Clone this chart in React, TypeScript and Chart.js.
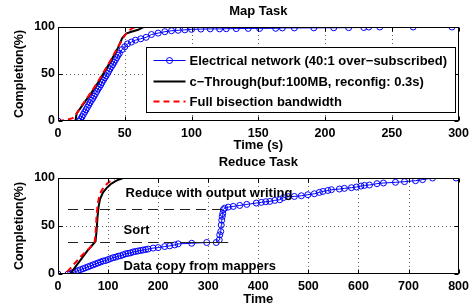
import React, { useEffect, useRef } from "react";
import { Chart, registerables } from "chart.js";

Chart.register(...registerables);

const FONT = '"Liberation Sans", Arial, Helvetica, sans-serif';

// ---------------- Map Task data ----------------
const mapTicksX = [0, 50, 100, 150, 200, 250, 300];
const mapTicksY = [0, 50, 100];

const mapElecX = [0, 16, 17, 18, 19, 20, 21, 22, 23, 24, 25, 26, 27, 28, 29, 30, 31, 32, 33, 34, 35, 36, 37, 38, 39, 40, 41, 42, 43, 44, 45, 46, 48, 50, 52, 55, 58, 62, 66, 70, 75, 80, 85, 90, 95, 100, 107, 114, 121, 126, 133.5, 142.5, 151, 163, 168, 177, 191.6, 206.5, 217.7, 229, 232.7, 241, 266, 295];
const mapElecY = [0, 0, 2, 4.5, 7, 9.5, 12, 14.5, 17, 19.5, 22, 24, 26.5, 29, 31.5, 34, 36, 38.5, 41, 43.5, 46, 48, 50.5, 53, 55.5, 58, 60, 62.5, 65, 67.5, 70, 72, 76, 79, 82, 84, 86, 87.5, 89, 92, 93.5, 95, 96, 96.5, 97, 97.5, 97.8, 98, 98, 98.2, 98.3, 98.5, 98.5, 98.6, 99, 99, 99.1, 99.2, 99.3, 99.5, 100, 100, 100, 100];

const mapCtX = [0, 13, 14, 20, 25, 30, 35, 40, 45, 48, 51, 55, 60, 64, 300];
const mapCtY = [0, 0, 8, 20, 30, 41, 53, 65, 78, 88, 93, 95, 97, 100, 100];

const mapFullX = [0, 6, 11, 14, 17, 20, 25, 30, 35, 40, 45, 50, 53, 56, 60, 300];
const mapFullY = [0, 1, 3, 8, 15, 21, 31, 42, 54, 66, 79, 91, 96, 99, 100, 100];

// ---------------- Reduce Task data ----------------
const redTicksX = [0, 100, 200, 300, 400, 500, 600, 700, 800];
const redTicksY = [0, 50, 100];

const redElecX = [0, 20, 25, 30, 35, 40, 45, 50, 55, 60, 65, 70, 75, 80, 85, 90, 95, 100, 105, 110, 115, 120, 125, 130, 135, 140, 145, 150, 155, 160, 165, 170, 175, 180, 190, 200, 213, 223, 233, 240, 267, 297, 316, 322, 323, 325, 326, 327, 328, 329, 330, 333, 340, 350, 363, 377, 396, 406, 415, 423, 433, 443, 450, 460, 472, 486, 499, 512, 522, 529, 539, 546, 562, 572, 586, 596, 605, 612, 622, 637, 650, 674, 692, 714, 728, 748, 795];
const redElecY = [0, 0, 0.5, 1.5, 2.5, 3.5, 4.5, 5.5, 6.5, 7.5, 8.5, 9.5, 10.5, 11.5, 12.5, 13.5, 14, 15, 16, 17, 17.5, 18.5, 19, 20, 21, 21.5, 22, 23, 23.5, 24, 24.5, 25, 25.5, 26, 27, 27.5, 28.6, 29.3, 30.3, 31.4, 32, 32.8, 32.8, 35.5, 40.8, 44.3, 51, 56, 60, 63, 67, 68.6, 69.7, 70.4, 71.4, 72.5, 73.9, 74.6, 75.3, 75.6, 76.7, 77.4, 79.5, 80.5, 80.8, 81.5, 82.6, 83.6, 85, 86, 87, 87.8, 88.5, 89.2, 89.9, 90.6, 91.6, 92.3, 92.7, 94.1, 94.8, 95.5, 96.2, 97.2, 98.3, 100, 100];

const redCtX = [10, 24, 30, 40, 50, 60, 70, 75, 77, 79, 81, 84, 90, 97, 105, 114, 122, 130, 800];
const redCtY = [0, 0, 4, 11, 18, 25, 31, 34, 45, 60, 70, 78, 85, 89.5, 93.5, 96.5, 98.5, 100, 100];

const redFullX = [0, 14, 25, 35, 45, 55, 65, 73, 75, 77, 79, 82, 86, 92, 100, 108, 114, 800];
const redFullY = [0, 0, 6, 12, 18, 23, 28, 33, 42, 60, 72, 80, 86, 91, 95, 98, 100, 100];

// ---------------- labels ----------------
const labelElec = "Electrical network (40:1 over\u2212subscribed)";
const labelCt = "c\u2212Through(buf:100MB, reconfig: 0.3s)";
const labelFull = "Full bisection bandwidth";

const reduceNotes = [
  { text: "Reduce with output writing", x: 135, y: 84.3 },
  { text: "Sort", x: 131, y: 45 },
  { text: "Data copy from mappers", x: 131, y: 7.6 },
];
const reduceGuides = [
  { x1: 20, x2: 335, y: 68, dashed: true },
  { x1: 20, x2: 255, y: 33, dashed: true },
  { x1: 255, x2: 340, y: 33, dashed: false },
];

function pairs(xs: number[], ys: number[]) {
  const n = Math.min(xs.length, ys.length);
  const out: { x: number; y: number }[] = [];
  for (let i = 0; i < n; i++) out.push({ x: xs[i], y: ys[i] });
  return out;
}

const framePlugin = {
  id: "matlabFrame",
  beforeDatasetsDraw(chart: any, _a: any, opts: any) {
    const { ctx, chartArea: ca, scales } = chart;
    ctx.save();
    ctx.strokeStyle = "#666";
    ctx.lineWidth = 1;
    ctx.setLineDash([1, 3]);
    for (const v of opts.xTicks) {
      const px = Math.round(scales.x.getPixelForValue(v)) + 0.5;
      if (px <= ca.left + 1 || px >= ca.right - 1) continue;
      ctx.beginPath();
      ctx.moveTo(px, ca.top);
      ctx.lineTo(px, ca.bottom);
      ctx.stroke();
    }
    for (const v of opts.yTicks) {
      const py = Math.round(scales.y.getPixelForValue(v)) + 0.5;
      if (py <= ca.top + 1 || py >= ca.bottom - 1) continue;
      ctx.beginPath();
      ctx.moveTo(ca.left, py);
      ctx.lineTo(ca.right, py);
      ctx.stroke();
    }
    ctx.restore();
  },
  afterDatasetsDraw(chart: any, _a: any, opts: any) {
    const { ctx, chartArea: ca, scales } = chart;
    ctx.save();
    // annotations
    if (opts.guides) {
      ctx.strokeStyle = "#222";
      ctx.lineWidth = 1;
      for (const g of opts.guides) {
        ctx.setLineDash(g.dashed ? [10, 6] : []);
        const py = Math.round(scales.y.getPixelForValue(g.y)) + 0.5;
        ctx.beginPath();
        ctx.moveTo(scales.x.getPixelForValue(g.x1), py);
        ctx.lineTo(scales.x.getPixelForValue(g.x2), py);
        ctx.stroke();
      }
      ctx.setLineDash([]);
    }
    if (opts.notes) {
      ctx.fillStyle = "#000";
      ctx.font = `bold 13px ${FONT}`;
      ctx.textAlign = "left";
      ctx.textBaseline = "middle";
      for (const n of opts.notes) {
        ctx.fillText(n.text, scales.x.getPixelForValue(n.x), scales.y.getPixelForValue(n.y));
      }
    }
    // box
    ctx.setLineDash([]);
    ctx.strokeStyle = "#000";
    ctx.lineWidth = 1;
    const L = Math.round(ca.left) + 0.5;
    const R = Math.round(ca.right) - 0.5;
    const T = Math.round(ca.top) + 0.5;
    const B = Math.round(ca.bottom) - 0.5;
    ctx.strokeRect(L, T, R - L, B - T);
    // inner ticks
    const tl = 4;
    ctx.beginPath();
    for (const v of opts.xTicks) {
      const px = Math.round(scales.x.getPixelForValue(v)) + 0.5;
      ctx.moveTo(px, B);
      ctx.lineTo(px, B - tl);
      ctx.moveTo(px, T);
      ctx.lineTo(px, T + tl);
    }
    for (const v of opts.yTicks) {
      const py = Math.round(scales.y.getPixelForValue(v)) + 0.5;
      ctx.moveTo(L, py);
      ctx.lineTo(L + tl, py);
      ctx.moveTo(R, py);
      ctx.lineTo(R - tl, py);
    }
    ctx.stroke();
    // legend
    if (opts.legend) {
      const ds = chart.data.datasets;
      const items = opts.legendOrder.map((i: number) => ds[i]);
      ctx.font = `bold 13px ${FONT}`;
      let maxW = 0;
      for (const d of items) maxW = Math.max(maxW, ctx.measureText(d.label).width);
      const w = Math.round(43 + maxW + 8);
      const h = 65;
      const bx = Math.round(ca.right - 4 - w) + 0.5;
      const by = Math.round(ca.top + 20) + 0.5;
      ctx.fillStyle = "#fff";
      ctx.fillRect(bx, by, w, h);
      ctx.strokeStyle = "#000";
      ctx.lineWidth = 1;
      ctx.strokeRect(bx, by, w, h);
      const rows = [12, 33, 53];
      items.forEach((d: any, i: number) => {
        const y = Math.round(by + rows[i]) + 0.5;
        ctx.save();
        ctx.strokeStyle = d.borderColor;
        ctx.lineWidth = d.borderWidth;
        ctx.setLineDash(d.borderDash || []);
        ctx.beginPath();
        ctx.moveTo(bx + 7, y);
        ctx.lineTo(bx + 39, y);
        ctx.stroke();
        ctx.setLineDash([]);
        if (d.pointRadius > 0) {
          ctx.lineWidth = 1;
          ctx.beginPath();
          ctx.arc(bx + 23, y, d.pointRadius, 0, Math.PI * 2);
          ctx.stroke();
        }
        ctx.restore();
        ctx.fillStyle = "#000";
        ctx.textAlign = "left";
        ctx.textBaseline = "middle";
        ctx.fillText(d.label, bx + 43, y + 0.5);
      });
    }
    // titles
    ctx.fillStyle = "#000";
    ctx.font = `bold 13px ${FONT}`;
    ctx.textAlign = "center";
    ctx.textBaseline = "middle";
    const cx = (ca.left + ca.right) / 2;
    ctx.fillText(opts.title, cx, opts.titleY);
    ctx.fillText(opts.xTitle, cx, opts.xTitleY);
    ctx.save();
    ctx.translate(20, (ca.top + ca.bottom) / 2);
    ctx.rotate(-Math.PI / 2);
    ctx.font = `bold 12.5px ${FONT}`;
    ctx.fillText(opts.yTitle, 0, 0);
    ctx.restore();
    ctx.restore();
  },
};

function makeConfig(p: {
  datasets: any[];
  xMax: number;
  xStep: number;
  padTop: number;
  xHeight: number;
  frame: any;
}) {
  const tickFont = { family: FONT, size: 12.5, weight: "bold" as const };
  return {
    type: "line" as const,
    data: { datasets: p.datasets },
    plugins: [framePlugin],
    options: {
      responsive: false,
      animation: false as const,
      devicePixelRatio: 1,
      events: [],
      layout: { padding: { top: p.padTop, right: 14, left: 0, bottom: 0 } },
      elements: { line: { tension: 0 } },
      plugins: {
        legend: { display: false },
        tooltip: { enabled: false },
        title: { display: false },
        matlabFrame: p.frame,
      },
      scales: {
        x: {
          type: "linear" as const,
          min: 0,
          max: p.xMax,
          ticks: { stepSize: p.xStep, font: tickFont, color: "#000", padding: 5, maxRotation: 0, autoSkip: false },
          grid: { display: false, drawTicks: false },
          border: { display: false },
          afterFit: (s: any) => {
            s.height = p.xHeight;
          },
        },
        y: {
          type: "linear" as const,
          min: 0,
          max: 100,
          ticks: { stepSize: 50, font: tickFont, color: "#000", padding: 3 },
          grid: { display: false, drawTicks: false },
          border: { display: false },
          afterFit: (s: any) => {
            s.width = 58;
          },
        },
      },
    },
  };
}

function seriesSet(elecX: number[], elecY: number[], ctX: number[], ctY: number[], fullX: number[], fullY: number[]) {
  return [
    {
      label: labelElec,
      data: pairs(elecX, elecY),
      borderColor: "#0000ff",
      borderWidth: 1,
      pointRadius: 3,
      pointBorderWidth: 1,
      pointBorderColor: "#0000ff",
      pointBackgroundColor: "rgba(0,0,0,0)",
      fill: false,
      order: 2,
    },
    {
      label: labelCt,
      data: pairs(ctX, ctY),
      borderColor: "#000000",
      borderWidth: 2,
      pointRadius: 0,
      fill: false,
      order: 1,
    },
    {
      label: labelFull,
      data: pairs(fullX, fullY),
      borderColor: "#ff0000",
      borderWidth: 2,
      borderDash: [6, 4],
      pointRadius: 0,
      fill: false,
      order: 0,
    },
  ];
}

export default function App() {
  const topRef = useRef<HTMLCanvasElement | null>(null);
  const botRef = useRef<HTMLCanvasElement | null>(null);

  useEffect(() => {
    const top = new Chart(
      topRef.current as HTMLCanvasElement,
      makeConfig({
        datasets: seriesSet(mapElecX, mapElecY, mapCtX, mapCtY, mapFullX, mapFullY),
        xMax: 300,
        xStep: 50,
        padTop: 27,
        xHeight: 33,
        frame: {
          xTicks: mapTicksX,
          yTicks: mapTicksY,
          legend: true,
          legendOrder: [0, 1, 2],
          title: "Map Task",
          titleY: 11.7,
          xTitle: "Time (s)",
          xTitleY: 145.5,
          yTitle: "Completion(%)",
        },
      }) as any
    );
    const bot = new Chart(
      botRef.current as HTMLCanvasElement,
      makeConfig({
        datasets: seriesSet(redElecX, redElecY, redCtX, redCtY, redFullX, redFullY),
        xMax: 800,
        xStep: 100,
        padTop: 24,
        xHeight: 34,
        frame: {
          xTicks: redTicksX,
          yTicks: redTicksY,
          legend: false,
          guides: reduceGuides,
          notes: reduceNotes,
          title: "Reduce Task",
          titleY: 8.3,
          xTitle: "Time",
          xTitleY: 145,
          yTitle: "Completion(%)",
        },
      }) as any
    );
    return () => {
      top.destroy();
      bot.destroy();
    };
  }, []);

  return (
    <div style={{ position: "absolute", left: 0, top: 0, width: 474, height: 308, background: "#fff" }}>
      <canvas ref={topRef} width={474} height={154} style={{ display: "block", width: 474, height: 154 }} />
      <canvas ref={botRef} width={474} height={154} style={{ display: "block", width: 474, height: 154 }} />
    </div>
  );
}
